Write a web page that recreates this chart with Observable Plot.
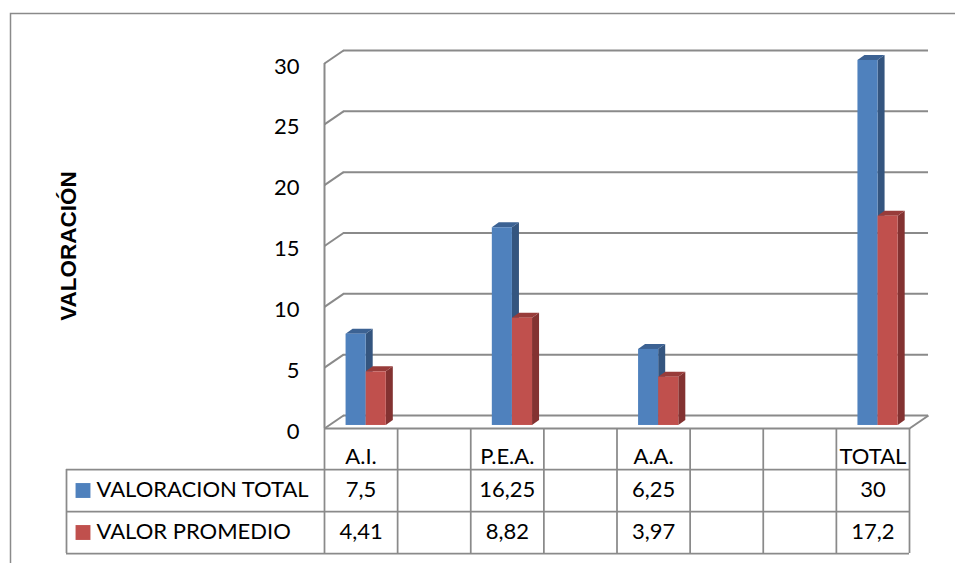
<!DOCTYPE html>
<html>
<head>
<meta charset="utf-8">
<script src="https://cdn.jsdelivr.net/npm/d3@7"></script>
<script src="https://cdn.jsdelivr.net/npm/@observablehq/plot@0.6"></script>
<style>
  html, body { margin: 0; padding: 0; background: #fff; overflow: hidden; }
</style>
</head>
<body>
<div id="chart"></div>
<script>
// Categories along the floor (blank slots are empty columns of the data table)
const categories = ["A.I.", "", "P.E.A.", "", "A.A.", "", "", "TOTAL"];
const valoracionTotal = [7.5, null, 16.25, null, 6.25, null, null, 30];
const valorPromedio = [4.41, null, 8.82, null, 3.97, null, null, 17.2];
const seriesNames = ["VALORACION TOTAL", "VALOR PROMEDIO"];
const yTicks = [0, 5, 10, 15, 20, 25, 30];
const axisTitle = "VALORACIÓN";

// Pseudo-3D geometry, expressed in scale units (x: category slots, y: value units)
const WALL = {x: 0.26, y: 1.07};       // depth of the back wall behind the front plane
const BAR_SHIFT = {x: 0.06, y: 0.25};  // columns stand slightly behind the front plane
const BAR_DEPTH = {x: 0.096, y: 0.41}; // thickness of each column
const LEAD = 0.235, SLOT = 0.275;      // column offset and width inside a category slot

const GRID = "#8a8a8a";
const FONT = "Lato, 'Open Sans', sans-serif";
const TEXT_SIZE = 22;
const fmt = v => String(v).replace(".", ",");

const series = [
  {name: seriesNames[0], values: valoracionTotal, front: "#4f81bd", side: "#34557f", top: "#3c6293"},
  {name: seriesNames[1], values: valorPromedio, front: "#c0504d", side: "#833231", top: "#983c3a"}
];

function columns(s, k) {
  return s.values.flatMap((v, i) => {
    if (v == null) return [];
    const left = i + LEAD + k * SLOT + BAR_SHIFT.x;
    return [{id: `${k}-${i}`, left, right: left + SLOT, bottom: BAR_SHIFT.y, top: v + BAR_SHIFT.y}];
  });
}

const marks = [
  // outer chart border
  Plot.frame({stroke: GRID, strokeWidth: 1.5, insetLeft: -314, insetTop: -50, insetRight: -200, insetBottom: -200}),
  // back wall gridlines
  Plot.ruleY(yTicks, {y: d => d + WALL.y, x1: WALL.x, x2: 8 + WALL.x, stroke: GRID, strokeWidth: 2}),
  // side wall edges joining the value axis to the back wall
  Plot.link(yTicks, {x1: 0, x2: WALL.x, y1: d => d, y2: d => d + WALL.y, stroke: GRID, strokeWidth: 2}),
  // value axis line and front edge of the floor
  Plot.ruleX([0], {y1: 0, y2: 30, stroke: GRID, strokeWidth: 2}),
  Plot.ruleY([0], {x1: 0, x2: 8, stroke: GRID, strokeWidth: 2}),
  Plot.link([0], {x1: 8, x2: 8 + WALL.x, y1: 0, y2: WALL.y, stroke: GRID, strokeWidth: 2})
];

// columns: side faces, top faces, then the front faces, series by series
series.forEach((s, k) => {
  const cols = columns(s, k);
  marks.push(
    Plot.areaY(cols.flatMap(c => [
      {id: c.id, x: c.right, y1: c.bottom, y2: c.top},
      {id: c.id, x: c.right + BAR_DEPTH.x, y1: c.bottom + BAR_DEPTH.y, y2: c.top + BAR_DEPTH.y}
    ]), {x: "x", y1: "y1", y2: "y2", z: "id", fill: s.side}),
    Plot.areaX(cols.flatMap(c => [
      {id: c.id, y: c.top, x1: c.left, x2: c.right},
      {id: c.id, y: c.top + BAR_DEPTH.y, x1: c.left + BAR_DEPTH.x, x2: c.right + BAR_DEPTH.x}
    ]), {y: "y", x1: "x1", x2: "x2", z: "id", fill: s.top}),
    Plot.rect(cols, {x1: "left", x2: "right", y1: "bottom", y2: "top", fill: s.front})
  );
});

// value axis
marks.push(
  Plot.axisY(yTicks, {tickSize: 0, tickPadding: 25, fontSize: 22, fontFamily: FONT, dy: 3, label: null}),
  Plot.text([axisTitle], {frameAnchor: "left", textAnchor: "middle", dx: -256, rotate: -90,
    fontWeight: "bold", fontSize: 22.5, fontFamily: "'Liberation Sans', Arial, sans-serif", fill: "black"})
);

// data table under the floor
const TABLE = {header: 28, row1: 61, row2: 103, lines: [41, 83, 125]};
const tableLine = {stroke: GRID, strokeWidth: 1.75};
marks.push(
  Plot.ruleX(d3.range(0, 9), {x: d => d, insetTop: 365, insetBottom: -125, ...tableLine}),
  Plot.ruleX([0], {x: 0, dx: -258, insetTop: 406, insetBottom: -125, ...tableLine}),
  Plot.ruleY([0], {x1: 0, x2: 8, dy: TABLE.lines[0], insetLeft: -258, ...tableLine}),
  Plot.ruleY([0], {x1: 0, x2: 8, dy: TABLE.lines[1], insetLeft: -258, ...tableLine}),
  Plot.ruleY([0], {x1: 0, x2: 8, dy: TABLE.lines[2], insetLeft: -258, ...tableLine}),
  Plot.text(categories, {x: (d, i) => i + 0.5, y: 0, dy: TABLE.header, text: d => d,
    fontSize: TEXT_SIZE, fontFamily: FONT, fill: "black"}),
  ...series.map((s, k) => Plot.text(s.values, {
    x: (d, i) => i + 0.5, y: 0, dy: k ? TABLE.row2 : TABLE.row1,
    text: d => d == null ? "" : fmt(d), fontSize: TEXT_SIZE, fontFamily: FONT, fill: "black"
  })),
  ...series.map((s, k) => Plot.dot([s.name], {
    x: 0, y: 0, dx: -241.5, dy: (k ? TABLE.row2 : TABLE.row1) + 1,
    symbol: "square", r: 8.4, fill: s.front, stroke: null
  })),
  ...series.map((s, k) => Plot.text([s.name], {
    x: 0, y: 0, dx: -228, dy: k ? TABLE.row2 : TABLE.row1, text: d => d,
    textAnchor: "start", fontSize: TEXT_SIZE, fontFamily: FONT, fill: "black"
  }))
);

const chart = Plot.plot({
  width: 955,
  height: 563,
  marginLeft: 324,
  marginRight: 46,
  marginTop: 63,
  marginBottom: 135,
  x: {type: "linear", domain: [0, 8], axis: null},
  y: {type: "linear", domain: [0, 30]},
  style: {background: "white", color: "black", overflow: "hidden"},
  marks
});
document.getElementById("chart").appendChild(chart);
</script>
</body>
</html>
